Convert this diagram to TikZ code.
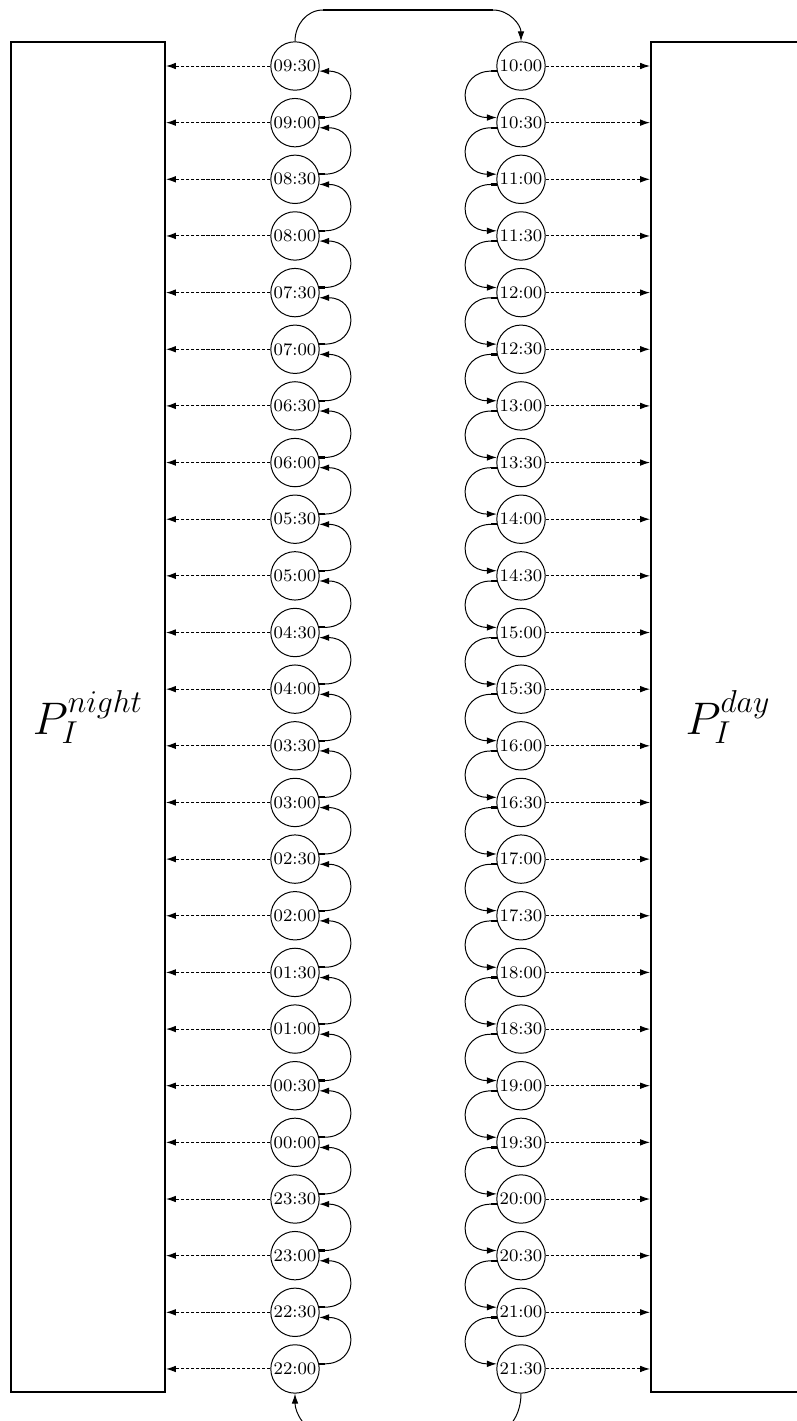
\documentclass[tikz,border=0pt]{standalone}
\usetikzlibrary{arrows.meta}
\begin{document}
\begin{tikzpicture}[x=0.4545pt,y=-0.4545pt,
  slot/.style={circle,draw,line width=0.45pt,minimum size=22pt,inner sep=0pt,font=\footnotesize},
  pool/.style={draw,line width=0.9pt,minimum width=70pt,minimum height=613.6pt,inner sep=0pt,font=\huge},
  tip/.style={-{Latex[length=4.5pt,width=3pt]}},
  feed/.style={line width=0.45pt,dash pattern=on 1.5pt off 0.8pt,tip},
  chain/.style={line width=0.45pt,{Rectangle[length=2.7pt,width=1pt]}-{Latex[length=4.5pt,width=3pt]}},
  link/.style={line width=0.45pt},
  bridge/.style={line width=1.1pt},
  ]
\useasboundingbox (0,0) rectangle (797,1421);

% the two pools
\node[pool] (night) at (88,717) {$P_I^{night}$};
\node[pool] (day) at (728,717) {$P_I^{day}$};

% half-hour slots
\foreach \t [count=\k from 0] in {09:30,09:00,08:30,08:00,07:30,07:00,06:30,06:00,05:30,05:00,04:30,04:00,03:30,03:00,02:30,02:00,01:30,01:00,00:30,00:00,23:30,23:00,22:30,22:00}
  \node[slot] (L\k) at (295,{66+\k*56.65}) {\t};
\foreach \t [count=\k from 0] in {10:00,10:30,11:00,11:30,12:00,12:30,13:00,13:30,14:00,14:30,15:00,15:30,16:00,16:30,17:00,17:30,18:00,18:30,19:00,19:30,20:00,20:30,21:00,21:30}
  \node[slot] (R\k) at (521,{66+\k*56.65}) {\t};

% slots feeding the pools
\foreach \k in {0,...,23} {
  \draw[feed] (L\k.west) -- (L\k.west -| night.east);
  \draw[feed] (R\k.east) -- (R\k.east -| day.west);
}

% successor links within each column
\foreach \i [count=\j] in {0,...,22} {
  \draw[chain] (L\j.12) to[out=0,in=0,looseness=2.2] (L\i.-12);
  \draw[chain] (R\i.192) to[out=180,in=180,looseness=2.2] (R\j.168);
}

% wrap-around between the columns
\coordinate (tl) at (323,10);
\coordinate (tr) at (493,10);
\draw[link] (L0.north) to[out=90,in=180] (tl);
\draw[bridge] (tl) -- (tr);
\draw[link,tip] (tr) to[out=0,in=90] (R0.north);

\coordinate (bl) at (323,1432);
\coordinate (br) at (493,1432);
\draw[link] (R23.south) to[out=-90,in=0] (br);
\draw[bridge] (br) -- (bl);
\draw[link,tip] (bl) to[out=180,in=-90] (L23.south);
\end{tikzpicture}
\end{document}
